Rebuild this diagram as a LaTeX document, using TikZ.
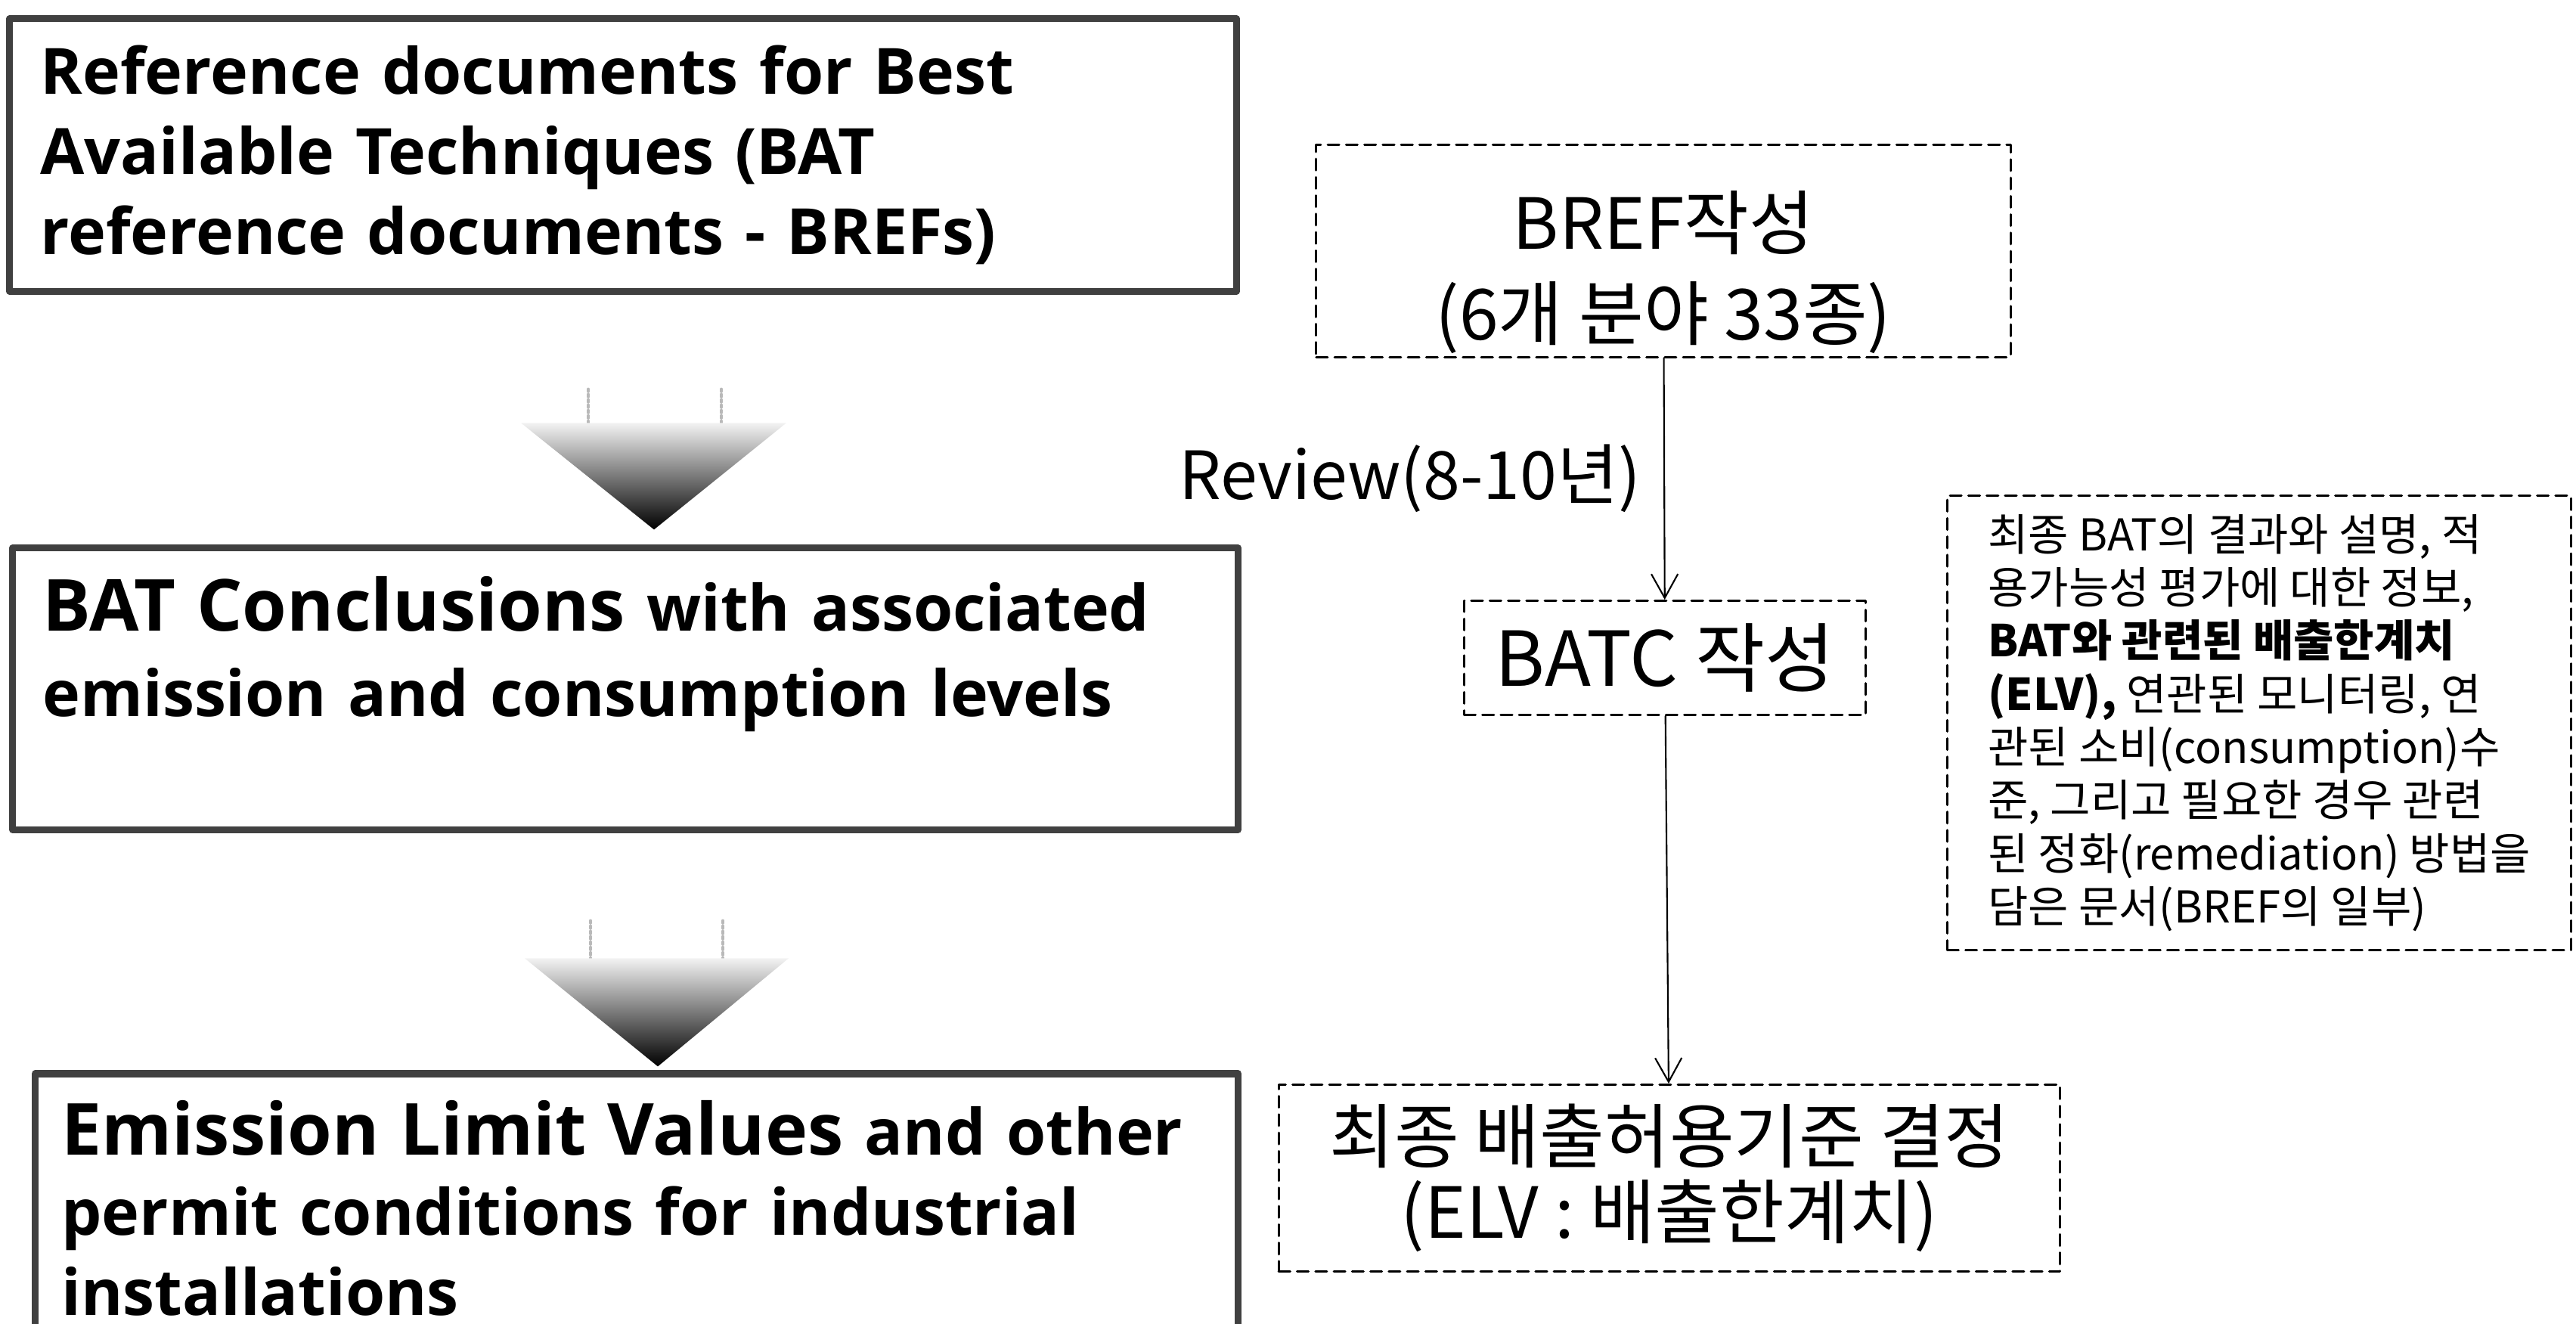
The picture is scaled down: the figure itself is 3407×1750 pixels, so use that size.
\documentclass[tikz,border=0pt]{standalone}
\usepackage{fontspec}
\setmainfont{Open Sans}
\newfontfamily\krfont{Noto Sans CJK KR}
\usepackage{tikz}
\usetikzlibrary{calc}
\usetikzlibrary{arrows.meta, positioning}

\begin{document}
\begin{tikzpicture}[x=0.01cm, y=-0.01cm, line cap=round, line join=round,
    >={Straight Barb[length=9pt, width=10pt]},
    solidbox/.style={draw=black!75, line width=2.6pt, align=left, text width=15.4cm,
      inner xsep=0.4cm, inner ysep=0pt, font=\bfseries\fontsize{24}{30.2}\selectfont},
    dashbox/.style={draw, line width=0.85pt, dash pattern=on 4.3pt off 2.6pt,
      align=center, inner sep=0pt},
    link/.style={->, line width=0.6pt},
    headshade/.style={top color=gray!10, bottom color=black}]

  \useasboundingbox (0,0) rectangle (3407,1750);

  %--------------------------
  % Left column: solid boxes
  %--------------------------
  \node[solidbox, minimum width=16.22cm, minimum height=3.6cm] (refdoc) at (824,205)
    {Reference documents for Best\\ Available Techniques (BAT\\ reference documents - BREFs)};

  \node[solidbox, minimum width=16.2cm, minimum height=3.72cm,
    font=\bfseries\fontsize{24}{31.9}\selectfont] (concl) at (827,911)
    {{\fontsize{27}{31.9}\selectfont BAT Conclusions} with associated\\
     emission and consumption levels\\ \mbox{}};

  \node[solidbox, text width=15.2cm, inner xsep=0.35cm, minimum width=15.9cm,
    minimum height=3.56cm] (permit) at (842,1598)
    {{\fontsize{27}{30.2}\selectfont Emission Limit Values} and other\\
     permit conditions for industrial\\ installations};

  % Shaded down arrows between the boxes
  \coordinate (tip1) at ($(concl.north)+(38,-20)$);
  \coordinate (tip2) at ($(permit.north)+(28,-5)$);

  \draw[gray!55, densely dotted, line width=1pt]
    ($(tip1)+(-87,-186)$) -- ($(tip1)+(-87,-141)$)
    ($(tip1)+(89,-186)$) -- ($(tip1)+(89,-141)$);
  \shade[headshade] ($(tip1)+(-176,-141)$) -- ($(tip1)+(175,-141)$) -- (tip1) -- cycle;

  \draw[gray!55, densely dotted, line width=1pt]
    ($(tip2)+(-89,-193)$) -- ($(tip2)+(-89,-143)$)
    ($(tip2)+(86,-193)$) -- ($(tip2)+(86,-143)$);
  \shade[headshade] ($(tip2)+(-176,-143)$) -- ($(tip2)+(173,-143)$) -- (tip2) -- cycle;

  %--------------------------
  % Right column: dashed boxes
  %--------------------------
  \node[dashbox, minimum width=9.18cm, minimum height=2.8cm,
    font=\krfont\fontsize{26.5}{34}\selectfont] (brefbox) at (2200,332)
    {\rule{0pt}{38pt}BREF작성\\(6개 분야 33종)};

  \node[dashbox, minimum width=5.31cm, minimum height=1.51cm,
    font=\krfont\fontsize{28.5}{34}\selectfont] (batcbox) at (2202,870) {BATC 작성};

  \node[dashbox, minimum width=10.33cm, minimum height=2.47cm,
    font=\krfont\fontsize{26.5}{28.5}\selectfont] (elvbox) at (2208,1558)
    {최종 배출허용기준 결정\\(ELV : 배출한계치)};

  \node[dashbox, minimum width=8.25cm, minimum height=6cm, align=left,
    font=\krfont\fontsize{16.5}{20}\selectfont] (infobox) at (2988,956)
    {최종 BAT의 결과와 설명, 적\\
     용가능성 평가에 대한 정보,\\
     \textbf{BAT와 관련된 배출한계치}\\
     \textbf{(ELV),} 연관된 모니터링, 연\\
     관된 소비(consumption)수\\
     준, 그리고 필요한 경우 관련\\
     된 정화(remediation) 방법을\\
     담은 문서(BREF의 일부)};

  % Arrows
  \draw[link] (brefbox) -- node[left=0.3cm, inner sep=0pt,
    font=\krfont\fontsize{25}{30}\selectfont] (review) {Review(8-10년)} (batcbox);
  \draw[link] (batcbox) -- (elvbox);

\end{tikzpicture}
\end{document}
